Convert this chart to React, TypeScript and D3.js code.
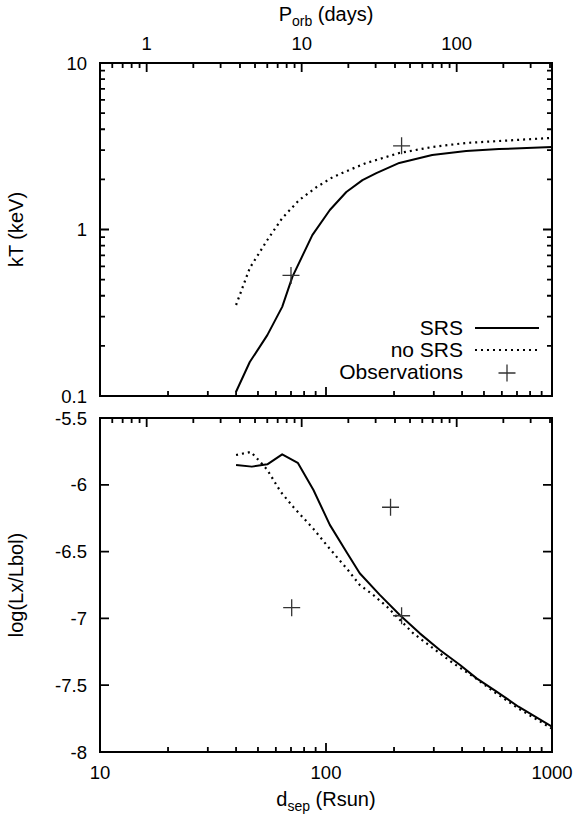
import React from "react";
import * as d3 from "d3";

// ---- data ----
const srsTopD = [40, 46, 55, 64, 71, 87, 104, 123, 145, 167, 211, 295, 417, 583, 1000];
const srsTopKT = [0.106, 0.16, 0.232, 0.343, 0.519, 0.926, 1.31, 1.68, 1.98, 2.18, 2.51, 2.8, 2.96, 3.04, 3.13];
const noSrsTopD = [40, 46, 55, 64, 76, 91, 107, 127, 151, 211, 295, 417, 583, 1000];
const noSrsTopKT = [0.352, 0.587, 0.865, 1.17, 1.5, 1.8, 2.06, 2.28, 2.51, 2.88, 3.13, 3.31, 3.4, 3.55];
const obsTopD = [70, 216];
const obsTopKT = [0.53, 3.18];

const srsBotD = [40, 47, 55, 64, 75, 88, 104, 124, 141, 173, 212, 260, 319, 392, 464, 560, 711, 1000];
const srsBotL = [-5.852, -5.864, -5.847, -5.772, -5.835, -6.039, -6.3, -6.51, -6.662, -6.824, -6.975, -7.112, -7.237, -7.349, -7.449, -7.54, -7.661, -7.811];
const noSrsBotD = [40, 46.5, 51, 55, 63, 72, 88, 104, 124, 141, 162, 186, 209, 243, 298, 366, 449, 560, 711, 1000];
const noSrsBotL = [-5.777, -5.754, -5.826, -5.889, -6.052, -6.17, -6.33, -6.48, -6.63, -6.75, -6.825, -6.912, -6.999, -7.111, -7.224, -7.336, -7.436, -7.555, -7.675, -7.825];
const obsBotD = [70.5, 193, 216];
const obsBotL = [-6.92, -6.168, -6.98];

const dTickLabels = [10, 100, 1000];
const porbTickLabels = [1, 10, 100];
const kTTickLabels = [0.1, 1, 10];
const lTicks = [-5.5, -6, -6.5, -7, -7.5, -8];
const legendLabels = ["SRS", "no SRS", "Observations"];

// ---- layout ----
const W = 578, H = 818;
const L = 100, R = 552;
const T1 = 63, B1 = 396;
const T2 = 418, B2 = 752;
const FONT = "'Liberation Sans', Arial, Helvetica, sans-serif";
const FS = 18.5;
const FT = 20;
const FL = 21;

const x = d3.scaleLog().domain([10, 1000]).range([L, R]);
const xP = d3.scaleLog().domain([0.5, 412]).range([L, R]);
const yT = d3.scaleLog().domain([0.1, 10]).range([B1, T1]);
const yB = d3.scaleLinear().domain([-8, -5.5]).range([B2, T2]);

const MAJ = 9;
const MINL = 5;

function isMajor(v: number) {
  const l = Math.log10(v);
  return Math.abs(l - Math.round(l)) < 1e-6;
}

function hTicksPath(sc: any, yy: number, dir: number) {
  const ticks: number[] = sc.ticks();
  return ticks.map((v) => `M${sc(v)},${yy}V${yy + dir * (isMajor(v) ? MAJ : MINL)}`).join("");
}

function vLogTicksPath(sc: any) {
  const ticks: number[] = sc.ticks();
  return ticks
    .map((v) => {
      const py = sc(v);
      const len = isMajor(v) ? MAJ : MINL;
      return `M${L},${py}H${L + len}M${R},${py}H${R - len}`;
    })
    .join("");
}

function vLinTicksPath(sc: any, vals: number[]) {
  return vals.map((v) => `M${L},${sc(v)}H${L + MAJ}M${R},${sc(v)}H${R - MAJ}`).join("");
}

function Plus({ cx, cy }: { cx: number; cy: number }) {
  const s = 8.5;
  return (
    <path d={`M${cx - s},${cy}H${cx + s}M${cx},${cy - s}V${cy + s}`} stroke="#333" strokeWidth={1.3} fill="none" />
  );
}

export default function App() {
  const lineTop = d3.line<[number, number]>().x((p) => x(p[0])).y((p) => yT(p[1]));
  const lineBot = d3.line<[number, number]>().x((p) => x(p[0])).y((p) => yB(p[1]));

  const srsTop = lineTop(srsTopD.map((d, i) => [d, srsTopKT[i]] as [number, number])) || "";
  const noSrsTop = lineTop(noSrsTopD.map((d, i) => [d, noSrsTopKT[i]] as [number, number])) || "";
  const srsBot = lineBot(srsBotD.map((d, i) => [d, srsBotL[i]] as [number, number])) || "";
  const noSrsBot = lineBot(noSrsBotD.map((d, i) => [d, noSrsBotL[i]] as [number, number])) || "";

  const tickPath =
    hTicksPath(xP, T1, 1) +
    hTicksPath(x, B1, -1) +
    vLogTicksPath(yT) +
    hTicksPath(xP, T2, 1) +
    hTicksPath(x, B2, -1) +
    vLinTicksPath(yB, lTicks);

  return (
    <svg width={W} height={H} style={{ position: "absolute", left: 0, top: 0, background: "#fff" }} fontFamily={FONT} fontSize={FS}>
      <rect x={0} y={0} width={W} height={H} fill="#fff" />
      <defs>
        <clipPath id="c1"><rect x={L} y={T1} width={R - L} height={B1 - T1} /></clipPath>
        <clipPath id="c2"><rect x={L} y={T2} width={R - L} height={B2 - T2} /></clipPath>
      </defs>

      {/* ---- top panel ---- */}
      {kTTickLabels.map((v) => (
        <text key={"k" + v} x={87} y={yT(v) + 6.5} textAnchor="end">{v}</text>
      ))}
      {porbTickLabels.map((v) => (
        <text key={"p" + v} x={xP(v)} y={49.5} textAnchor="middle">{v}</text>
      ))}
      <text x={326} y={21} textAnchor="middle" fontSize={FT}>
        P<tspan fontSize={14} dy={5}>orb</tspan><tspan dy={-5}> (days)</tspan>
      </text>
      <text transform={`translate(23,${(T1 + B1) / 2}) rotate(-90)`} textAnchor="middle" fontSize={FT}>kT (keV)</text>

      <g clipPath="url(#c1)" fill="none">
        <path d={srsTop} stroke="#000" strokeWidth={2} strokeLinejoin="round" />
        <path d={noSrsTop} stroke="#000" strokeWidth={2.2} strokeDasharray="2,4" />
      </g>
      {obsTopD.map((d, i) => (
        <Plus key={"ot" + i} cx={x(d)} cy={yT(obsTopKT[i])} />
      ))}

      {/* legend */}
      {legendLabels.map((lab, i) => (
        <text key={lab} x={463} y={335 + i * 22} textAnchor="end" fontSize={FL}>{lab}</text>
      ))}
      <line x1={475} x2={539} y1={328} y2={328} stroke="#000" strokeWidth={2} />
      <line x1={475} x2={539} y1={350} y2={350} stroke="#000" strokeWidth={2.2} strokeDasharray="2,4" />
      <Plus cx={507} cy={373} />

      {/* ---- bottom panel ---- */}
      {lTicks.map((v) => (
        <text key={"l" + v} x={87} y={yB(v) + 6.5} textAnchor="end">{v}</text>
      ))}
      {dTickLabels.map((v) => (
        <text key={"d" + v} x={x(v)} y={778.5} textAnchor="middle">{v}</text>
      ))}
      <text x={326} y={806} textAnchor="middle" fontSize={FT}>
        d<tspan fontSize={14} dy={5}>sep</tspan><tspan dy={-5}> (Rsun)</tspan>
      </text>
      <text transform={`translate(23,${(T2 + B2) / 2}) rotate(-90)`} textAnchor="middle" fontSize={FT}>log(Lx/Lbol)</text>

      <g clipPath="url(#c2)" fill="none">
        <path d={srsBot} stroke="#000" strokeWidth={2} strokeLinejoin="round" />
        <path d={noSrsBot} stroke="#000" strokeWidth={2.2} strokeDasharray="2,4" />
      </g>
      {obsBotD.map((d, i) => (
        <Plus key={"ob" + i} cx={x(d)} cy={yB(obsBotL[i])} />
      ))}

      {/* frames and ticks on top */}
      <rect x={L} y={T1} width={R - L} height={B1 - T1} fill="none" stroke="#000" strokeWidth={2} />
      <rect x={L} y={T2} width={R - L} height={B2 - T2} fill="none" stroke="#000" strokeWidth={2} />
      <path d={tickPath} stroke="#000" strokeWidth={1.8} fill="none" />
    </svg>
  );
}
